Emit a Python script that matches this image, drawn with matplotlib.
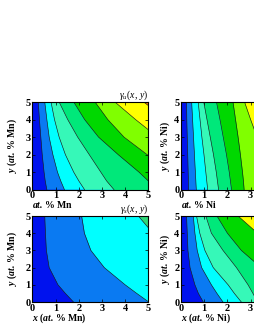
import matplotlib
matplotlib.use("Agg")
import matplotlib.pyplot as plt
import numpy as np

plt.rcParams['font.family'] = ['Liberation Serif', 'DejaVu Serif']
plt.rcParams['mathtext.fontset'] = 'custom'
plt.rcParams['mathtext.rm'] = 'Liberation Serif'
plt.rcParams['mathtext.it'] = 'Liberation Serif:italic'
plt.rcParams['mathtext.sf'] = 'Liberation Serif:bold:italic'
plt.rcParams['mathtext.bf'] = 'Liberation Serif:bold'

# y rows at which the contour-boundary x positions were read
y_rows = [0, 0.5, 1, 2, 3, 4, 5]

# colours of the filled contour bands
c_blue = '#0012ee'
c_mblue = '#0a7af2'
c_cyan = '#00ffff'
c_aqua = '#36f8b8'
c_spring = '#00e87a'
c_green = '#00d800'
c_lime = '#80ff00'
c_yellow = '#ffff00'
c_orange = '#ff7a00'
c_sgreen = '#2ed878'

# gamma_u, Mn-Mn (top left): boundary x at each y row
tl_bounds = [
    [0.62, 0.55, 0.50, 0.42, 0.36, 0.30, 0.25],
    [1.38, 1.22, 1.08, 0.88, 0.72, 0.62, 0.53],
    [2.25, 2.00, 1.78, 1.42, 1.15, 0.95, 0.80],
    [3.52, 3.20, 2.95, 2.45, 1.95, 1.52, 1.15],
    [5.15, 5.00, 4.60, 3.70, 2.85, 2.25, 1.78],
    [6.50, 6.20, 5.90, 4.95, 3.95, 3.25, 2.70],
    [8.00, 8.00, 8.00, 6.50, 5.40, 4.45, 3.56],
    [9.00, 9.00, 9.00, 8.00, 7.00, 5.80, 4.80],
]
tl_colors = [c_blue, c_mblue, c_cyan, c_aqua, c_spring, c_green, c_lime, c_yellow, c_orange]

# gamma_u, Mn-Ni (top right)
tr_bounds = [
    [0.33, 0.32, 0.31, 0.29, 0.27, 0.25, 0.24],
    [0.66, 0.64, 0.62, 0.58, 0.54, 0.50, 0.46],
    [1.15, 1.11, 1.07, 0.99, 0.90, 0.82, 0.74],
    [1.62, 1.57, 1.52, 1.40, 1.26, 1.12, 0.98],
    [2.18, 2.13, 2.08, 1.96, 1.82, 1.68, 1.53],
    [2.72, 2.69, 2.65, 2.56, 2.46, 2.35, 2.24],
    [3.70, 3.65, 3.60, 3.45, 3.28, 3.00, 2.74],
]
tr_colors = [c_blue, c_mblue, c_cyan, c_aqua, c_spring, c_green, c_lime, c_yellow]

# gamma_s, Mn-Mn (bottom left)
bl_bounds = [
    [1.77, 1.42, 1.10, 0.72, 0.60, 0.56, 0.53],
    [5.02, 4.50, 4.00, 3.10, 2.52, 2.24, 2.12],
    [8.00, 8.00, 8.00, 7.00, 6.00, 5.20, 4.57],
]
bl_colors = [c_blue, c_mblue, c_cyan, c_sgreen]

# gamma_s, Mn-Ni (bottom right)
br_bounds = [
    [0.96, 0.75, 0.60, 0.39, 0.30, 0.27, 0.24],
    [1.81, 1.55, 1.31, 0.89, 0.70, 0.60, 0.53],
    [2.60, 2.30, 2.03, 1.39, 1.03, 0.81, 0.67],
    [3.30, 3.10, 2.89, 2.39, 1.81, 1.31, 1.07],
    [4.60, 4.35, 4.10, 3.45, 2.60, 2.00, 1.55],
    [5.50, 5.30, 5.00, 4.40, 3.80, 3.30, 2.46],
]
br_colors = [c_blue, c_mblue, c_cyan, c_aqua, c_spring, c_green, c_yellow]

ticks_mn = [0, 1, 2, 3, 4, 5]
ticks_ni = [0, 1, 2, 3]

W, H = 255, 330
fig = plt.figure(figsize=(W / 100, H / 100), dpi=100)


def make_ax(left_px, top_px, right_px, bottom_px):
    return fig.add_axes([left_px / W, 1 - bottom_px / H,
                         (right_px - left_px) / W, (bottom_px - top_px) / H])


def draw_panel(ax, bounds, colors, xticks):
    y = np.array(y_rows, dtype=float)
    ax.fill_betweenx(y, -1, 12, color=colors[0], lw=0)
    for b, c in zip(bounds, colors[1:]):
        ax.fill_betweenx(y, b, 12, color=c, lw=0)
    for b in bounds:
        ax.plot(b, y, color='#1a1a1a', lw=0.45)
    ax.set_xlim(0, 5)
    ax.set_ylim(0, 5)
    ax.set_xticks(xticks)
    ax.set_yticks(ticks_mn)
    ax.tick_params(direction='in', length=2, width=0.5, pad=1.2,
                   labelsize=7.5, top=True, right=True)
    for lab in ax.get_xticklabels() + ax.get_yticklabels():
        lab.set_fontweight('bold')
    for s in ax.spines.values():
        s.set_linewidth(0.8)


ax_tl = make_ax(32.5, 102, 148.3, 189.7)
ax_tr = make_ax(181, 102, 297, 189.7)
ax_bl = make_ax(32.5, 216, 148.3, 302)
ax_br = make_ax(181, 216, 297, 302)

draw_panel(ax_tl, tl_bounds, tl_colors, ticks_mn)
draw_panel(ax_tr, tr_bounds, tr_colors, ticks_ni)
draw_panel(ax_bl, bl_bounds, bl_colors, ticks_mn)
draw_panel(ax_br, br_bounds, br_colors, ticks_ni)

lab_kw = dict(fontsize=7.0)
lab_mn = r'$\mathsf{at.}\,\mathbf{\%\ Mn}$'
lab_ni = r'$\mathsf{at.}\,\mathbf{\%\ Ni}$'
xlab_mn = r'$\mathsf{x}\ \mathbf{(}\mathsf{at.}\,\mathbf{\%\ Mn)}$'
xlab_ni = r'$\mathsf{x}\ \mathbf{(}\mathsf{at.}\,\mathbf{\%\ Ni)}$'
ylab_mn = r'$\mathsf{y}\ \mathbf{(}\mathsf{at.}\,\mathbf{\%\ Mn)}$'
ylab_ni = r'$\mathsf{y}\ \mathbf{(}\mathsf{at.}\,\mathbf{\%\ Ni)}$'

# x labels (left-aligned at axes left edge)
fig.text(32 / W, 1 - 205 / H, lab_mn, ha='left', va='center', **lab_kw)
fig.text(181 / W, 1 - 205 / H, lab_ni, ha='left', va='center', **lab_kw)
fig.text(32 / W, 1 - 318.5 / H, xlab_mn, ha='left', va='center', **lab_kw)
fig.text(181 / W, 1 - 318.5 / H, xlab_ni, ha='left', va='center', **lab_kw)

# y labels
fig.text(12 / W, 1 - 146 / H, ylab_mn, rotation=90, ha='center', va='center', **lab_kw)
fig.text(12 / W, 1 - 259 / H, ylab_mn, rotation=90, ha='center', va='center', **lab_kw)
fig.text(165 / W, 1 - 146 / H, ylab_ni, rotation=90, ha='center', va='center', **lab_kw)
fig.text(165 / W, 1 - 259 / H, ylab_ni, rotation=90, ha='center', va='center', **lab_kw)

# panel titles
fig.text(148.3 / W, 1 - 95.5 / H, r'$\gamma_u(x,\,y)$', ha='right', va='center', fontsize=7)
fig.text(148.3 / W, 1 - 209 / H, r'$\gamma_s(x,\,y)$', ha='right', va='center', fontsize=7)

fig.savefig('out.png', dpi=100)
